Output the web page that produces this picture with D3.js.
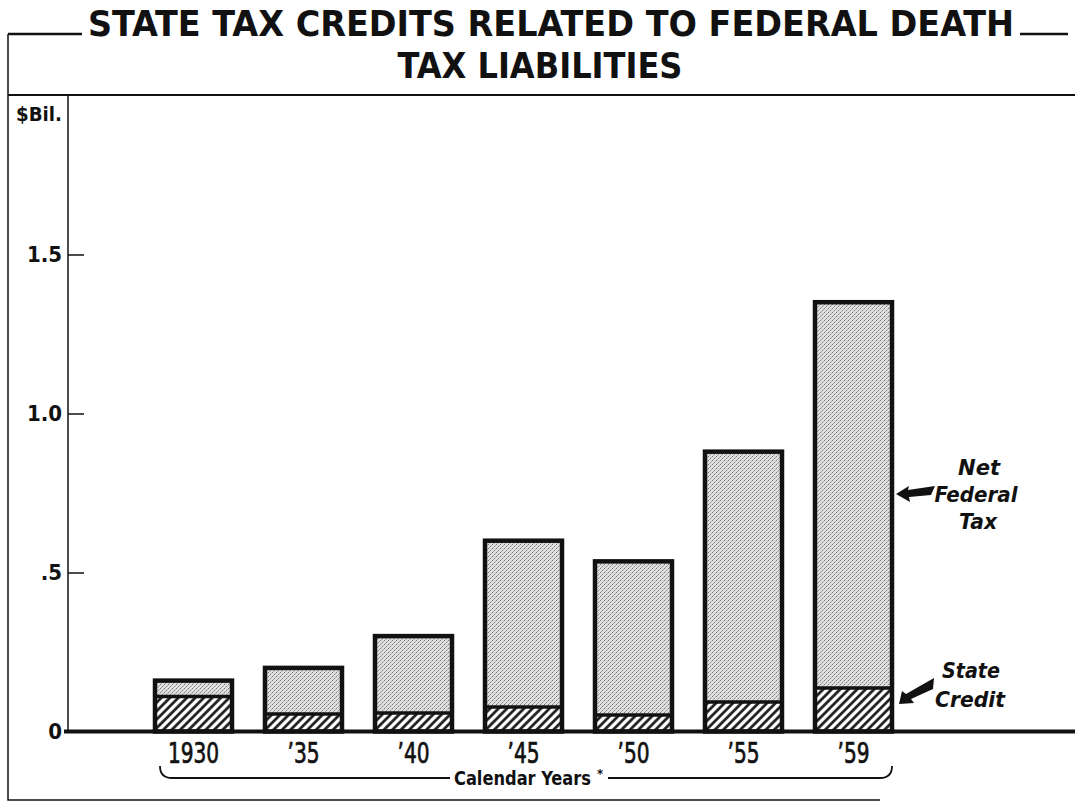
<!DOCTYPE html>
<html>
<head>
<meta charset="utf-8">
<script src="https://cdn.jsdelivr.net/npm/d3@7/dist/d3.min.js"></script>
<style>
  body { margin: 0; background: #fff; }
  svg text { font-family: "DejaVu Sans Condensed", "Liberation Sans Narrow", sans-serif; }
</style>
</head>
<body>
<svg id="chart" width="1075" height="802"></svg>
<script>
// values ($ billions)
const years = ["1930", "'35", "'40", "'45", "'50", "'55", "'59"];
const stateCredit = [0.11, 0.055, 0.058, 0.077, 0.052, 0.093, 0.137];
const netFederalTax = [0.05, 0.145, 0.242, 0.523, 0.483, 0.787, 1.213];
const yTicks = [0, 0.5, 1.0, 1.5];
const yTickLabels = ["0", ".5", "1.0", "1.5"];

const svg = d3.select("#chart");

const defs = svg.append("defs");
const stip = defs.append("pattern")
  .attr("id", "stipple")
  .attr("width", 4).attr("height", 4)
  .attr("patternUnits", "userSpaceOnUse");
stip.append("rect").attr("width", 4).attr("height", 4).attr("fill", "#e0e0e0");
stip.append("rect").attr("x", 0).attr("y", 0).attr("width", 1).attr("height", 1).attr("fill", "#777");
stip.append("rect").attr("x", 2).attr("y", 2).attr("width", 1).attr("height", 1).attr("fill", "#888");
stip.append("rect").attr("x", 3).attr("y", 1).attr("width", 1).attr("height", 1).attr("fill", "#aaa");
stip.append("rect").attr("x", 1).attr("y", 3).attr("width", 1).attr("height", 1).attr("fill", "#aaa");

const hatch = defs.append("pattern")
  .attr("id", "hatch")
  .attr("width", 6).attr("height", 6)
  .attr("patternUnits", "userSpaceOnUse")
  .attr("patternTransform", "rotate(45)");
hatch.append("rect").attr("width", 6).attr("height", 6).attr("fill", "#fff");
hatch.append("line").attr("x1", 1.5).attr("y1", 0).attr("x2", 1.5).attr("y2", 6)
  .attr("stroke", "#111").attr("stroke-width", 2.6);

// frame
svg.append("path")
  .attr("d", "M8,34 V800 H880")
  .attr("fill", "none").attr("stroke", "#111").attr("stroke-width", 1.5);
svg.append("line").attr("x1", 8).attr("x2", 1075).attr("y1", 95).attr("y2", 95)
  .attr("stroke", "#111").attr("stroke-width", 2);

// title
svg.append("line").attr("x1", 8).attr("x2", 82).attr("y1", 34).attr("y2", 34)
  .attr("stroke", "#111").attr("stroke-width", 2.5);
svg.append("line").attr("x1", 1020).attr("x2", 1068).attr("y1", 34).attr("y2", 34)
  .attr("stroke", "#111").attr("stroke-width", 2.5);
svg.append("text").attr("x", 88).attr("y", 36)
  .attr("textLength", 926).attr("lengthAdjust", "spacingAndGlyphs")
  .attr("font-size", 36).attr("font-weight", "bold").attr("fill", "#111")
  .text("STATE TAX CREDITS RELATED TO FEDERAL DEATH");
svg.append("text").attr("x", 540).attr("y", 78)
  .attr("text-anchor", "middle")
  .attr("textLength", 285).attr("lengthAdjust", "spacingAndGlyphs")
  .attr("font-size", 36).attr("font-weight", "bold").attr("fill", "#111")
  .text("TAX LIABILITIES");

const y = d3.scaleLinear().domain([0, 2]).range([731.5, 95.5]);
const x = d3.scaleBand().domain(years).range([138.5, 908.5])
  .paddingInner(0.3).paddingOuter(0.15);

// y axis
svg.append("line").attr("x1", 68).attr("x2", 68).attr("y1", 95).attr("y2", 731)
  .attr("stroke", "#111").attr("stroke-width", 1.5);
const yAxis = svg.append("g")
  .attr("transform", "translate(68,0)")
  .call(d3.axisRight(y).tickValues(yTicks.slice(1)).tickSize(16).tickFormat(""));
yAxis.select(".domain").remove();
yAxis.selectAll("line").attr("stroke", "#111").attr("stroke-width", 1.5);

svg.selectAll(".ylab").data(yTicks).enter().append("text")
  .attr("class", "ylab")
  .attr("x", 62).attr("y", d => y(d))
  .attr("dy", "0.36em")
  .attr("text-anchor", "end")
  .attr("font-size", 22).attr("font-weight", "bold").attr("fill", "#111")
  .text((d, i) => yTickLabels[i]);

svg.append("text").attr("x", 16).attr("y", 121)
  .attr("textLength", 46).attr("lengthAdjust", "spacingAndGlyphs")
  .attr("font-size", 19).attr("font-weight", "bold").attr("fill", "#111")
  .text("$Bil.");

// stacked bars
const rows = years.map((yr, i) => ({ year: yr, credit: stateCredit[i], net: netFederalTax[i] }));
const series = d3.stack().keys(["credit", "net"])(rows);
const fills = { credit: "url(#hatch)", net: "url(#stipple)" };

svg.append("g").selectAll("g").data(series).enter().append("g")
  .attr("fill", d => fills[d.key])
  .selectAll("rect").data(d => d).enter().append("rect")
  .attr("x", d => x(d.data.year))
  .attr("y", d => y(d[1]))
  .attr("width", x.bandwidth())
  .attr("height", d => y(d[0]) - y(d[1]));

// divider between credit and net
svg.append("g").selectAll("line").data(rows).enter().append("line")
  .attr("x1", d => x(d.year)).attr("x2", d => x(d.year) + x.bandwidth())
  .attr("y1", d => y(d.credit)).attr("y2", d => y(d.credit))
  .attr("stroke", "#111").attr("stroke-width", 3.5);

// bar outlines
svg.append("g").selectAll("rect").data(rows).enter().append("rect")
  .attr("x", d => x(d.year))
  .attr("y", d => y(d.credit + d.net))
  .attr("width", x.bandwidth())
  .attr("height", d => y(0) - y(d.credit + d.net))
  .attr("fill", "none").attr("stroke", "#111").attr("stroke-width", 4.5);

// baseline
svg.append("line").attr("x1", 64).attr("x2", 1075).attr("y1", y(0)).attr("y2", y(0))
  .attr("stroke", "#111").attr("stroke-width", 4);

// x labels
svg.selectAll(".xlab").data(years).enter().append("text")
  .attr("class", "xlab")
  .attr("transform", d => `translate(${x(d) + x.bandwidth() / 2},763) scale(0.8,1)`)
  .attr("text-anchor", "middle")
  .attr("font-size", 28).attr("fill", "#111")
  .attr("stroke", "#111").attr("stroke-width", 0.7)
  .text(d => d.replace("'", "\u2019"));

// brace and axis caption
const bx0 = x(years[0]) + 5, bx1 = x(years[years.length - 1]) + x.bandwidth();
svg.append("path")
  .attr("d", `M${bx0},766 Q${bx0},778 ${bx0 + 12},778 H450 M608,778 H${bx1 - 12} Q${bx1},778 ${bx1},766`)
  .attr("fill", "none").attr("stroke", "#111").attr("stroke-width", 1.8);
svg.append("text").attr("x", 454).attr("y", 785)
  .attr("textLength", 137).attr("lengthAdjust", "spacingAndGlyphs")
  .attr("font-size", 19).attr("font-weight", "bold").attr("fill", "#111")
  .text("Calendar Years");
svg.append("text").attr("x", 597).attr("y", 778)
  .attr("font-size", 13).attr("font-weight", "bold").attr("fill", "#111")
  .text("*");

// series annotations
const ann = svg.append("g").attr("font-style", "italic").attr("font-size", 22)
  .attr("font-weight", "bold").attr("fill", "#111").attr("text-anchor", "middle");
[["Net", 979, 475, 42], ["Federal", 976, 502, 83], ["Tax", 978, 529, 38],
 ["State", 971, 678, 58], ["Credit", 970, 707, 70]].forEach(t => {
  ann.append("text").attr("x", t[1]).attr("y", t[2])
    .attr("textLength", t[3]).attr("lengthAdjust", "spacingAndGlyphs")
    .text(t[0]);
});

svg.append("path")
  .attr("d", "M896,494 L909,486 L908,490 L935,486 L931,495 L909,497 L910,502 Z")
  .attr("fill", "#111");
svg.append("path")
  .attr("d", "M899,704 L902,691 L906,694 L934,678 L933,689 L911,699 L914,703 Z")
  .attr("fill", "#111");
</script>
</body>
</html>
